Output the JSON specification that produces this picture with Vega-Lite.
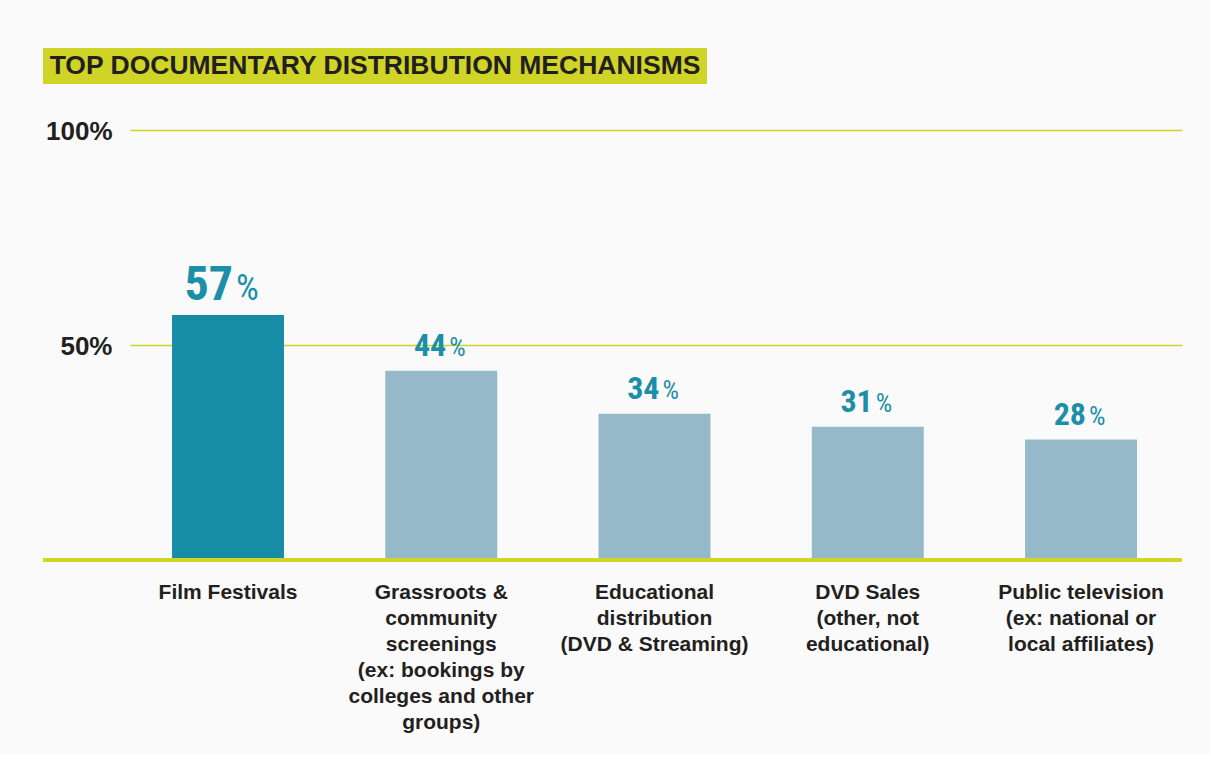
{
  "$schema": "https://vega.github.io/schema/vega-lite/v6.json",
  "background": "#fafafa",
  "padding": {"left": 41, "top": 48, "right": 26, "bottom": 22},
  "spacing": 34,
  "config": {"view": {"stroke": null}},
  "vconcat": [
    {
      "width": 664,
      "height": 36,
      "view": {"fill": "#cfd426", "stroke": null},
      "data": {"values": [{"title": "TOP DOCUMENTARY DISTRIBUTION MECHANISMS"}]},
      "mark": {"type": "text", "font": "Liberation Sans", "fontWeight": "bold", "fontSize": 26.5, "color": "#231f20", "baseline": "middle", "align": "center"},
      "encoding": {"text": {"field": "title"}}
    },
    {
      "width": 1139,
      "height": 430,
      "data": {"values": [
        {"mechanism": "Film Festivals", "pct": 57, "top": "yes"},
        {"mechanism": "Grassroots &\ncommunity\nscreenings\n(ex: bookings by\ncolleges and other\ngroups)", "pct": 44, "top": "no"},
        {"mechanism": "Educational\ndistribution\n(DVD & Streaming)", "pct": 34, "top": "no"},
        {"mechanism": "DVD Sales\n(other, not\neducational)", "pct": 31, "top": "no"},
        {"mechanism": "Public television\n(ex: national or\nlocal affiliates)", "pct": 28, "top": "no"}
      ]},
      "encoding": {
        "y": {
          "field": "pct", "type": "quantitative",
          "scale": {"domain": [0, 100], "nice": false},
          "axis": {
            "title": null, "values": [50, 100], "domain": false, "ticks": false, "tickSize": 0,
            "grid": true, "gridColor": "#cdd226", "gridWidth": 1.5,
            "labelExpr": "datum.value + '%'",
            "labelFont": "Liberation Sans", "labelFontWeight": "bold", "labelFontSize": 26,
            "labelColor": "#231f20", "labelPadding": -69, "labelAlign": "right", "labelOffset": 1, "labelBaseline": "middle"
          }
        }
      },
      "layer": [
        {
          "mark": {"type": "bar"},
          "encoding": {
            "x": {
              "field": "mechanism", "type": "nominal", "sort": null,
              "scale": {"range": [87, 1139], "paddingInner": 0.475, "paddingOuter": 0.204, "align": 0.483},
              "axis": {
                "title": null, "labelAngle": 0, "ticks": false, "tickSize": 0,
                "domain": false,
                "labelExpr": "split(datum.value, '\\n')",
                "labelFont": "Liberation Sans", "labelFontWeight": "bold", "labelFontSize": 21,
                "labelColor": "#231f20", "labelLineHeight": 26, "labelBaseline": "alphabetic",
                "labelPadding": 38, "labelAlign": "center", "labelLimit": 400
              }
            },
            "color": {"field": "top", "type": "nominal", "scale": {"domain": ["yes", "no"], "range": ["#178da5", "#95b9c9"]}, "legend": null}
          }
        },
        {
          "mark": {"type": "rule", "color": "#d0d528", "strokeWidth": 4},
          "encoding": {"y": {"datum": 0}}
        },
        {
          "mark": {"type": "text", "font": "Roboto Condensed, Liberation Sans Narrow, DejaVu Sans Condensed, sans-serif", "fontWeight": "bold", "color": "#1b8fa7", "align": "right", "baseline": "alphabetic", "dx": 5, "dy": -15},
          "encoding": {
            "x": {"field": "mechanism", "type": "nominal", "sort": null},
            "text": {"field": "pct", "type": "quantitative"},
            "size": {"condition": {"test": "datum.top === 'yes'", "value": 48}, "value": 32}
          }
        },
        {
          "mark": {"type": "text", "font": "Roboto Condensed, Liberation Sans Narrow, DejaVu Sans Condensed, sans-serif", "fontWeight": "normal", "color": "#1b8fa7", "align": "left", "baseline": "alphabetic", "dx": 8, "dy": -15, "text": "%"},
          "encoding": {
            "x": {"field": "mechanism", "type": "nominal", "sort": null},
            "size": {"condition": {"test": "datum.top === 'yes'", "value": 36}, "value": 26}
          }
        }
      ]
    }
  ]
}
